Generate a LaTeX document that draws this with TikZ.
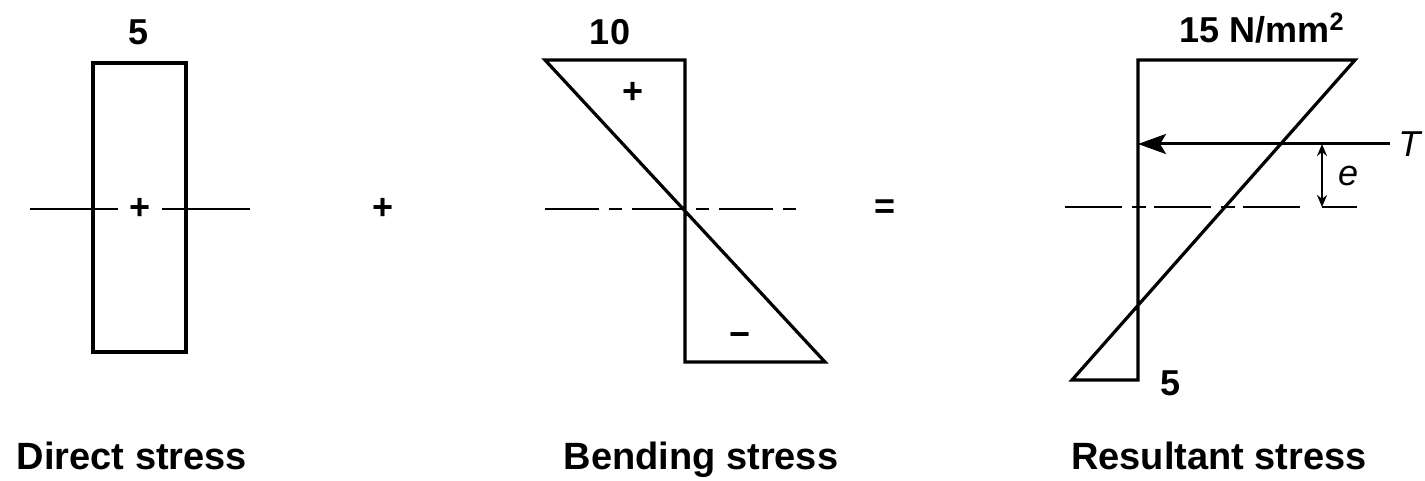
\documentclass[tikz,border=0pt]{standalone}
\usepackage{fontspec}
\setmainfont{Liberation Sans}
\usetikzlibrary{arrows.meta,positioning}
\tikzset{
  stk/.style={line width=1.6pt, line join=miter},
  axis/.style={line width=1.3pt, dash pattern=on 27pt off 5pt on 6.5pt off 5pt},
  axisr/.style={line width=1.3pt, dash pattern=on 28.5pt off 5pt on 7pt off 4pt},
  num/.style={font=\bfseries\fontsize{18}{20}\selectfont, inner sep=0pt},
  sgn/.style={font=\bfseries\fontsize{18}{20}\selectfont, inner sep=0pt},
  var/.style={font=\itshape\fontsize{18}{20}\selectfont, inner sep=0pt},
  capt/.style={font=\bfseries\fontsize{19}{22}\selectfont, inner sep=0pt, anchor=base},
  ar/.style={-{Stealth[length=14pt,width=10pt,inset=3pt]}, line width=1.5pt},
  dim/.style={{Stealth[length=6pt,width=5pt]}-{Stealth[length=6pt,width=5pt]}, line width=1.2pt},
}

\begin{document}
\begin{tikzpicture}[x=0.5pt, y=-0.5pt]
\useasboundingbox (0,0) rectangle (1425,481);
% direct stress
\coordinate (da) at (93,63); \coordinate (db) at (186,352);
\draw[stk] (da) rectangle (db);
\coordinate (dl) at (30,209); \coordinate (dr) at (250,209);
\node[sgn] (dplus) at (140,209) {+};
\draw[line width=1.3pt, shorten >=5.5pt] (dl) -- (dplus);
\draw[line width=1.3pt, shorten <=5.5pt] (dplus) -- (dr);
\coordinate (dt) at (139,63);
\node[num, above=9pt of dt] (dval) {5};
\node[sgn] (plus) at (383,209) {+};
% bending stress
\coordinate (b1) at (545,60); \coordinate (b2) at (685,60);
\coordinate (b3) at (685,362); \coordinate (b4) at (825,362);
\draw[stk] (b1) -- (b2) -- (b3) -- (b4) -- cycle;
\coordinate (bl) at (545,209); \coordinate (br) at (805,209);
\draw[axis] (bl) -- (br);
\coordinate (bt) at (610,60);
\node[num, above=7.5pt of bt] (bval) {10};
\node[sgn] (bpos) at (633,93) {+};
\node[sgn] (bneg) at (740,340) {−};
\node[sgn] (eq) at (885,209) {=};
% resultant stress
\coordinate (r1) at (1138,60); \coordinate (r2) at (1355,60);
\coordinate (r3) at (1072,380); \coordinate (r4) at (1138,380);
\draw[stk] (r4) -- (r1) -- (r2) -- (r3) -- cycle;
\coordinate (rl) at (1065,207); \coordinate (rr) at (1303,207);
\draw[axisr] (rl) -- (rr);
\node[num, anchor=base] (rtop) at (1262,43) {15 N/mm\textsuperscript{2}};
\node[num, anchor=base west] (rlow) at (1160,395) {5};
\coordinate (tend) at (1390,144); \coordinate (tmid) at (1138,144);
\draw[ar] (tend) -- (tmid);
\node[var, right=4pt of tend] (tlab) {T};
\coordinate (ea) at (1322,144); \coordinate (eb) at (1322,207); \coordinate (ec) at (1357,207);
\draw[dim] (ea) -- (eb);
\draw[line width=1.3pt] (eb) -- (ec);
\node[var] (elab) at (1348,176) {e};
\foreach \x/\t in {132/Direct stress, 701/Bending stress, 1219/Resultant stress}
  \node[capt] (cap\x) at (\x,469) {\t};
\end{tikzpicture}
\end{document}
